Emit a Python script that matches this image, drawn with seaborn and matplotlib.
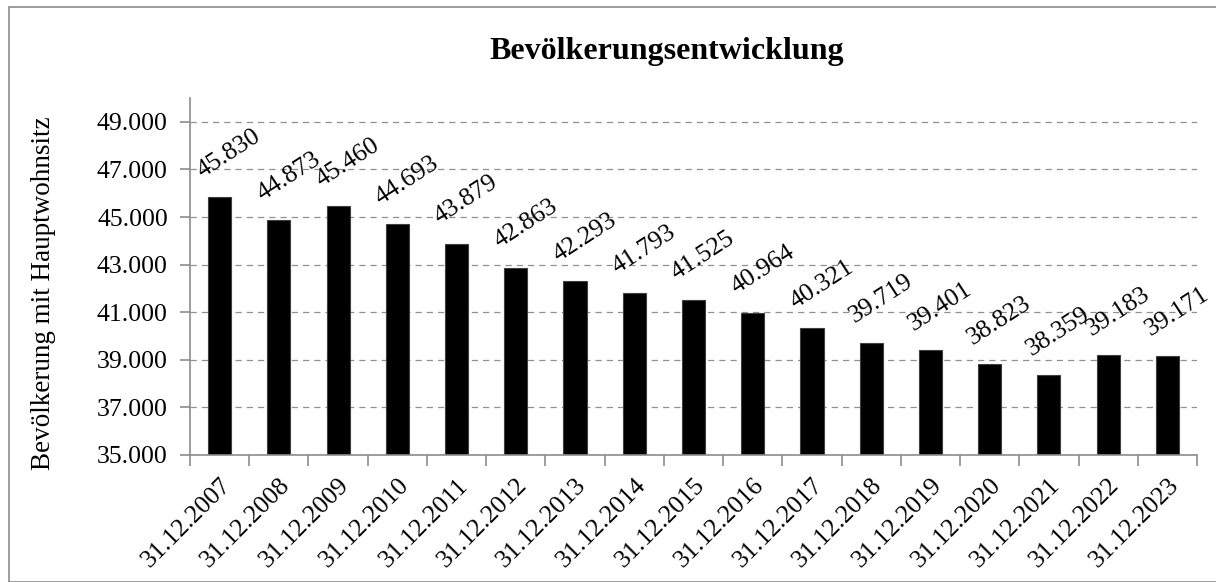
import matplotlib
matplotlib.use("Agg")
import matplotlib.pyplot as plt
import seaborn as sns
import pandas as pd
import numpy as np
from matplotlib.patches import Rectangle

dates = ["31.12.2007", "31.12.2008", "31.12.2009", "31.12.2010", "31.12.2011",
         "31.12.2012", "31.12.2013", "31.12.2014", "31.12.2015", "31.12.2016",
         "31.12.2017", "31.12.2018", "31.12.2019", "31.12.2020", "31.12.2021",
         "31.12.2022", "31.12.2023"]
population = [45830, 44873, 45460, 44693, 43879, 42863, 42293, 41793, 41525,
              40964, 40321, 39719, 39401, 38823, 38359, 39183, 39171]
y_ticks = [35000, 37000, 39000, 41000, 43000, 45000, 47000, 49000]

title = "Bevölkerungsentwicklung"
ylabel = "Bevölkerung mit Hauptwohnsitz"

def de_fmt(v):
    return f"{v:,.0f}".replace(",", ".")

sns.set_theme(style="white")
plt.rcParams['font.family'] = ['Liberation Serif', 'DejaVu Serif']
plt.rcParams['text.color'] = 'black'
plt.rcParams['axes.labelcolor'] = 'black'

FS = 18.5

fig = plt.figure(figsize=(12.16, 5.82), dpi=100)
ax = fig.add_axes([190/1216, 1-455/582, (1197-190)/1216, (455-98)/582])

df = pd.DataFrame({"date": dates, "pop": population})
sns.barplot(data=df, x="date", y="pop", color="black", width=0.39,
            edgecolor="#404040", linewidth=0.8, ax=ax, saturation=1)

ax.set_ylim(35000, 50000)
ax.set_xlim(-0.5, len(dates)-0.5)
ax.set_yticks(y_ticks)
ax.set_yticklabels([de_fmt(v) for v in y_ticks], fontsize=FS)
ax.yaxis.grid(True, linestyle=(0, (5, 4)), color="#909090", linewidth=0.9)
ax.set_axisbelow(True)

for s in ["top", "right"]:
    ax.spines[s].set_visible(False)
for s in ["left", "bottom"]:
    ax.spines[s].set_color("#8c8c8c")
    ax.spines[s].set_linewidth(1.2)

ax.tick_params(axis="y", which="major", direction="out", length=7, color="#8c8c8c",
               width=1.2, left=True, pad=9, labelcolor="black")
ax.set_xticks(range(len(dates)))
ax.set_xticklabels(dates, rotation=45, ha="right", va="top",
                   rotation_mode="anchor", fontsize=FS)
ax.tick_params(axis="x", which="major", length=0, pad=14, labelcolor="black")
ax.set_xticks(np.arange(-0.5, len(dates), 1.0), minor=True)
ax.tick_params(axis="x", which="minor", direction="out", length=8,
               color="#8c8c8c", width=1.2, bottom=True)

ax.set_xlabel("")
ax.set_ylabel(ylabel, fontsize=19.5, color="black")
ax.yaxis.label.set_va("center")
ax.yaxis.set_label_coords((44-190)/1007, (455-293)/357)

for i, v in enumerate(population):
    ax.annotate(de_fmt(v), xy=(i, v), xytext=(7, 11), textcoords="offset points",
                rotation=33, ha="center", va="bottom", fontsize=FS, color="black")

fig.text(667/1216, 1-52/582, title, ha="center", va="center",
         fontsize=23, fontweight="bold", color="black")

fig.patches.append(Rectangle((9/1216, 0), 1.5, 1-7/582, transform=fig.transFigure,
                             fill=False, edgecolor="#8c8c8c", linewidth=1.2))

fig.savefig("out.png", dpi=100)
